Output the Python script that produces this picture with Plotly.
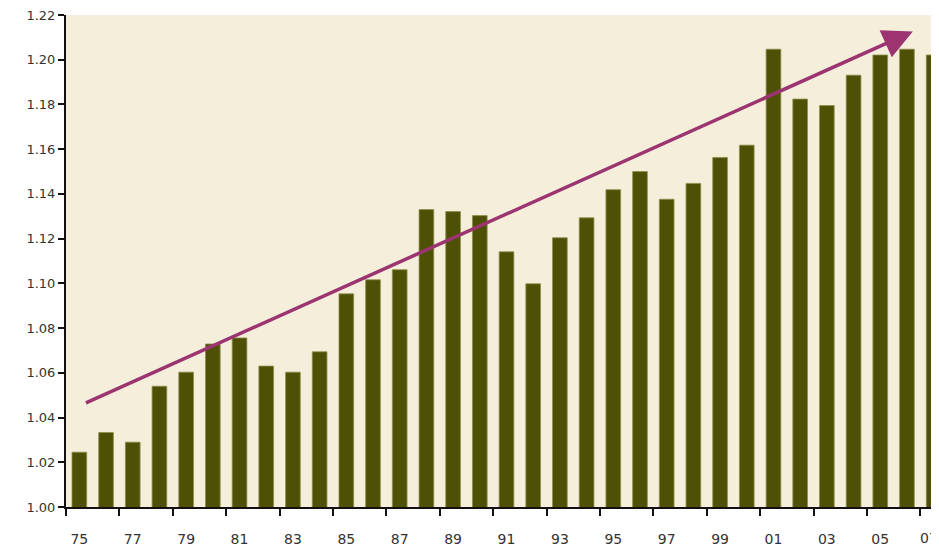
import plotly.graph_objects as go

years = ["75","76","77","78","79","80","81","82","83","84","85","86","87","88","89","90",
         "91","92","93","94","95","96","97","98","99","00","01","02","03","04","05","06","07"]
values = [1.0245, 1.0333, 1.0290, 1.0540, 1.0603, 1.0729, 1.0756, 1.0630, 1.0603, 1.0694,
          1.0953, 1.1016, 1.1061, 1.1330, 1.1321, 1.1303, 1.1141, 1.0998, 1.1204, 1.1293,
          1.1419, 1.1500, 1.1376, 1.1447, 1.1563, 1.1618, 1.2047, 1.1824, 1.1795, 1.1931,
          1.2021, 1.2047, 1.2021]
tick_labels = years[::2]
y_ticks = [1.00, 1.02, 1.04, 1.06, 1.08, 1.10, 1.12, 1.14, 1.16, 1.18, 1.20, 1.22]

# trend arrow (category index, value)
trend_start = (0.19, 1.0463)
trend_end = (31.22, 1.2126)

idx = list(range(len(years)))
xfont = dict(family="DejaVu Sans", size=14, color="#333333")

fig = go.Figure()
fig.add_trace(go.Bar(
    x=idx, y=values, width=0.55,
    marker=dict(color="#4E5105", line=dict(color="#8E8E4A", width=0.8)),
    hoverinfo="skip",
))

fig.add_annotation(
    x=trend_end[0], y=trend_end[1], ax=trend_start[0], ay=trend_start[1],
    xref="x", yref="y", axref="x", ayref="y",
    text="", showarrow=True, arrowhead=2, arrowsize=1.7, arrowwidth=3.5,
    arrowcolor="#9B3470",
)

# last tick label (at the right edge, as in the original)
fig.add_annotation(
    x=idx[-1], y=0, xref="x", yref="paper", yanchor="top", xanchor="center",
    yshift=-21, xshift=-5, text=tick_labels[-1], showarrow=False, font=xfont,
)

font = dict(family="DejaVu Sans", size=13, color="#333333")

fig.update_layout(
    width=931, height=539,
    margin=dict(l=58, r=0, t=7, b=40),
    paper_bgcolor="white",
    plot_bgcolor="#F4EEDB",
    showlegend=False,
    xaxis=dict(
        range=[-0.5, 32.2],
        tickmode="array", tickvals=idx[::2], ticktext=tick_labels,
        ticks="outside", ticklen=0, ticklabelstandoff=18,
        tickfont=xfont,
        showline=True, linecolor="#111111", linewidth=1.5,
        showgrid=False, zeroline=False,
        minor=dict(tickmode="array", tickvals=[i - 0.5 for i in idx[::2]],
                   ticks="outside", ticklen=7, tickwidth=1.5, tickcolor="#111111",
                   showgrid=False),
    ),
    yaxis=dict(
        range=[1.0, 1.22],
        tickmode="array", tickvals=y_ticks, ticktext=[f"{v:.2f}" for v in y_ticks],
        ticks="outside", ticklen=6, tickwidth=1.5, tickcolor="#111111",
        ticklabeloverflow="allow",
        tickfont=font,
        showline=True, linecolor="#111111", linewidth=2,
        showgrid=False, zeroline=False,
    ),
)

fig.write_html("out.html")
